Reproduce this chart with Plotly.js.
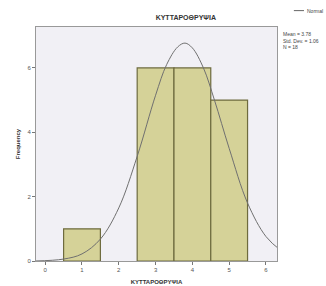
<!DOCTYPE html>
<html>
<head>
<meta charset="utf-8">
<script src="https://cdn.plot.ly/plotly-3.0.1.min.js"></script>
<style>html,body{margin:0;padding:0;background:#fff;}#chart{width:326px;height:286px;}</style>
</head>
<body>
<div id="chart"></div>
<script>
// Histogram bins (bin centre values) and frequencies
const binCenters = [1, 3, 4, 5];
const frequencies = [1, 6, 6, 5];
// Normal curve
const curveX = [-0.28, 0.5, 1.0, 1.5, 2.0, 2.5, 3.0, 3.3, 3.6, 3.8, 4.0, 4.3, 4.6, 5.0, 5.5, 6.0, 6.42];
const curveY = [0.0, 0.06, 0.22, 0.68, 1.65, 3.25, 5.15, 6.1, 6.65, 6.77, 6.62, 6.0, 5.0, 3.5, 1.8, 0.76, 0.31];
const xTicks = [0, 1, 2, 3, 4, 5, 6];
const yTicks = [0, 2, 4, 6];
const titleText = "ΚΥΤΤΑΡΟΘΡΥΨΙΑ";
const yTitle = "Frequency";
const statsLines = ["Mean = 3.78", "Std. Dev. = 1.06", "N = 18"];
const legendLabel = "Normal";

const font = "Liberation Sans, Arial, sans-serif";

const traces = [
  {
    type: "bar", x: binCenters, y: frequencies, width: 1,
    marker: {color: "#D5D298", line: {color: "#6E6B3E", width: 1.2}},
    hoverinfo: "none", showlegend: false
  },
  {
    type: "scatter", mode: "lines", x: curveX, y: curveY,
    line: {color: "#707070", width: 1, shape: "spline"},
    hoverinfo: "none", showlegend: false
  }
];

const annotations = [
  {xref: "paper", yref: "paper", x: 1.015, y: 0.99, xanchor: "left", yanchor: "top",
   text: statsLines.join("<br>"), showarrow: false, align: "left",
   font: {family: font, size: 5, color: "#444"}},
  {xref: "paper", yref: "paper", x: 1.118, y: 1.07, xanchor: "left", yanchor: "middle",
   text: legendLabel, showarrow: false, font: {family: font, size: 5, color: "#444"}}
];

const layout = {
  width: 326, height: 286,
  margin: {l: 36, r: 49, t: 27, b: 25, pad: 0},
  paper_bgcolor: "#ffffff",
  plot_bgcolor: "#F1F0F5",
  bargap: 0,
  title: {text: "<b>" + titleText + "</b>", x: 0.57, xanchor: "center", y: 0.94, yanchor: "middle",
          font: {family: font, size: 7, color: "#333"}},
  xaxis: {
    range: [-0.25, 6.3], tickvals: xTicks, ticktext: xTicks.map(String),
    ticks: "outside", ticklen: 3, tickcolor: "#777", showgrid: false, zeroline: false,
    showline: true, linecolor: "#999", linewidth: 1, mirror: true,
    tickfont: {family: font, size: 6, color: "#555"},
    title: {text: "<b>" + titleText + "</b>", standoff: 7, font: {family: font, size: 6, color: "#333"}}
  },
  yaxis: {
    range: [0, 7.27], tickvals: yTicks, ticktext: yTicks.map(String),
    ticks: "outside", ticklen: 3, tickcolor: "#777", showgrid: false, zeroline: false,
    showline: true, linecolor: "#999", linewidth: 1, mirror: true,
    tickfont: {family: font, size: 6, color: "#555"},
    title: {text: "<b>" + yTitle + "</b>", standoff: 6, font: {family: font, size: 6, color: "#333"}}
  },
  shapes: [
    {type: "line", xref: "paper", yref: "paper", x0: 1.07, x1: 1.112, y0: 1.07, y1: 1.07,
     line: {color: "#666", width: 1}}
  ],
  annotations: annotations,
  showlegend: false
};

Plotly.newPlot("chart", traces, layout, {displayModeBar: false, staticPlot: true});
</script>
</body>
</html>
